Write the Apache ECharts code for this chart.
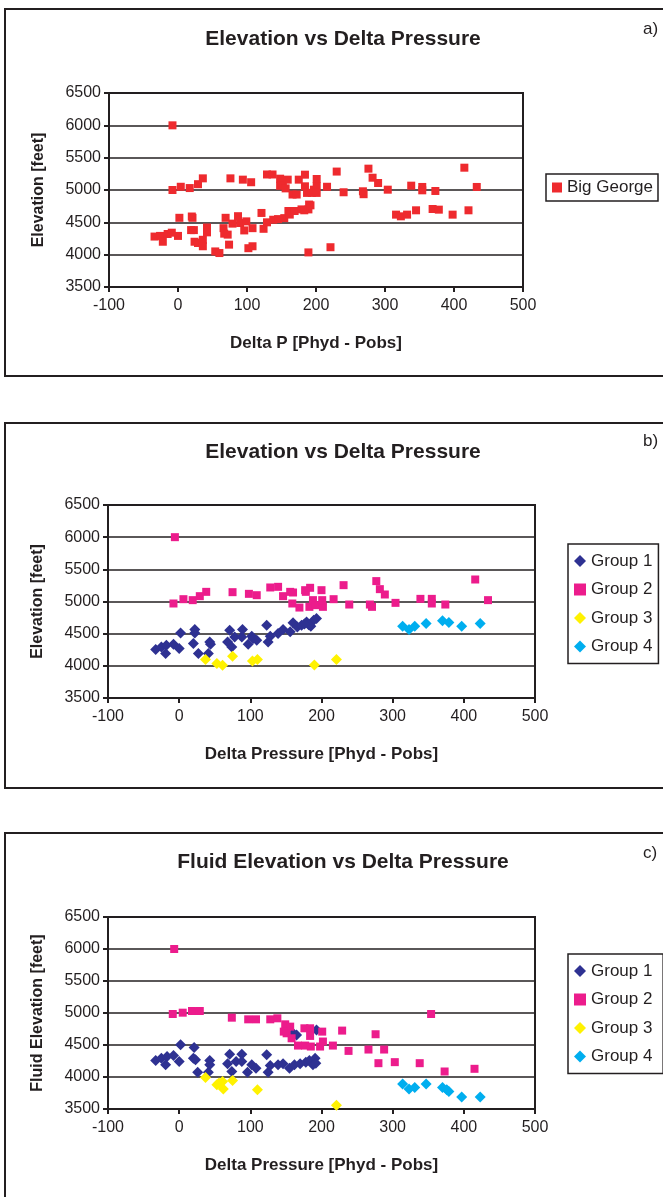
<!DOCTYPE html>
<html><head><meta charset="utf-8">
<script src="https://cdn.jsdelivr.net/npm/echarts@6/dist/echarts.min.js"></script>
<style>html,body{margin:0;padding:0;background:#fff}#c{width:663px;height:1197px}</style>
</head><body><div id="c"></div>
<script>
// ---- data ----
var xTicks = [-100, 0, 100, 200, 300, 400, 500];
var yTicks = [3500, 4000, 4500, 5000, 5500, 6000, 6500];

// a) Big George: [deltaP, elevation]
var bigGeorge = [[-8,6000],[-34,4280],[-26,4290],[-22,4200],[-15,4320],[-9,4340],[0,4290],[-8,5000],[4,5050],[2,4570],[17,5030],[29,5090],[36,5180],[21,4570],[20,4590],[19,4380],[23,4380],[24,4200],[29,4180],[36,4230],[36,4130],[42,4420],[42,4345],[54,4050],[60,4025],[66,4410],[67,4325],[69,4570],[72,4310],[74,4155],[76,5180],[79,4480],[87,4595],[90,4490],[94,5160],[96,4375],[99,4515],[102,4100],[106,5120],[108,4410],[108,4130],[121,4645],[124,4400],[129,4500],[129,5240],[137,5240],[138,4540],[145,4550],[148,5175],[152,5130],[148,5065],[154,4565],[159,5160],[156,5025],[160,4675],[162,4620],[166,4930],[169,4675],[172,4930],[175,5160],[179,4700],[184,5237],[184,5057],[187,4955],[189,4700],[190,4775],[189,4035],[194,4955],[197,5005],[201,5170],[201,5057],[201,4955],[216,5050],[221,4115],[230,5285],[240,4965],[268,4980],[269,4935],[276,5330],[282,5190],[290,5108],[304,5005],[316,4619],[323,4593],[332,4619],[338,5067],[345,4686],[354,5047],[354,4995],[369,4706],[373,4985],[378,4696],[398,4619],[415,5345],[421,4686],[433,5047],[183,4686],[192,4763]];

// b) Elevation by group
var bGroup1 = [[-33,4253],[-25,4294],[-19,4190],[-18,4320],[-8,4336],[0,4268],[2,4512],[20,4346],[22,4512],[22,4564],[27,4190],[41,4190],[43,4372],[44,4336],[68,4372],[71,4554],[74,4294],[78,4450],[88,4450],[89,4564],[97,4336],[102,4460],[104,4424],[109,4398],[123,4631],[125,4372],[128,4460],[139,4502],[146,4564],[156,4528],[160,4668],[166,4605],[172,4631],[179,4683],[185,4616],[189,4709],[193,4735],[182,4640],[176,4650]];
var bGroup2 = [[-6,6000],[-8,4969],[6,5036],[19,5021],[29,5083],[38,5150],[75,5145],[98,5119],[109,5098],[128,5218],[139,5228],[146,5083],[156,5150],[160,5140],[159,4969],[169,4906],[177,5176],[184,5213],[183,4917],[188,5021],[191,4943],[200,5176],[202,4917],[217,5036],[231,5254],[239,4953],[268,4953],[271,4917],[277,5317],[282,5192],[289,5109],[304,4979],[339,5041],[355,5041],[355,4969],[374,4953],[416,5342],[434,5021],[178,5150],[201,5021]];
var bGroup3 = [[37,4097],[53,4035],[61,4009],[75,4149],[103,4076],[110,4097],[190,4012],[221,4097]];
var bGroup4 = [[314,4616],[323,4564],[331,4616],[347,4657],[370,4699],[379,4673],[397,4616],[423,4657]];

// c) Fluid elevation by group
var cGroup1 = [[-33,4258],[-25,4294],[-19,4190],[-17,4320],[-8,4336],[0,4242],[2,4502],[20,4294],[21,4460],[23,4268],[26,4076],[41,4076],[43,4258],[43,4190],[71,4356],[68,4206],[74,4086],[80,4242],[88,4356],[88,4242],[96,4076],[102,4190],[108,4138],[123,4346],[125,4076],[128,4180],[139,4190],[146,4206],[155,4138],[160,4683],[165,4657],[162,4190],[170,4206],[178,4232],[183,4258],[188,4190],[191,4294],[193,4735],[192,4216]];
var cGroup2 = [[-7,6000],[-9,4984],[5,5005],[18,5031],[29,5031],[74,4927],[97,4901],[108,4901],[128,4901],[138,4917],[149,4823],[156,4787],[147,4709],[151,4683],[158,4605],[167,4491],[176,4761],[184,4761],[184,4642],[177,4491],[185,4476],[201,4709],[198,4476],[202,4554],[216,4491],[229,4725],[238,4408],[266,4429],[276,4668],[280,4216],[288,4429],[303,4232],[338,4216],[354,4984],[373,4086],[415,4128]];
var cGroup3 = [[37,3993],[53,3879],[56,3905],[61,3931],[62,3811],[75,3946],[110,3801],[221,3557]];
var cGroup4 = [[314,3889],[323,3811],[331,3837],[347,3889],[370,3837],[376,3801],[379,3775],[397,3687],[423,3687]];

var groupNames = ['Group 1', 'Group 2', 'Group 3', 'Group 4'];
var titles = ['Elevation vs Delta Pressure', 'Elevation vs Delta Pressure', 'Fluid Elevation vs Delta Pressure'];
var xNames = ['Delta P [Phyd - Pobs]', 'Delta Pressure [Phyd - Pobs]', 'Delta Pressure [Phyd - Pobs]'];
var yNames = ['Elevation [feet]', 'Elevation [feet]', 'Fluid Elevation [feet]'];
var panelTags = ['a)', 'b)', 'c)'];

// ---- layout / style ----
var FONT = "'Liberation Sans', Arial, sans-serif";
var INK = '#231f20';
var grids = [
  {left: 109, top: 93, width: 414, height: 194},
  {left: 108, top: 505, width: 427, height: 193},
  {left: 108, top: 917, width: 427, height: 192}
];
var panels = [[5, 9, 367], [5, 423, 365], [5, 833, 400]];
var titleTops = [24, 437, 847];
var tagTops = [16, 428, 840];
var colors = {red: '#ee2a2e', blue: '#2e3192', pink: '#ec1c8c', yellow: '#fff200', cyan: '#00aeef'};

function xAxis(i) {
  return {
    type: 'value', gridIndex: i, min: xTicks[0], max: xTicks[xTicks.length - 1], interval: 100,
    name: xNames[i], nameLocation: 'middle', nameGap: 48,
    nameTextStyle: {fontFamily: FONT, fontSize: 17, fontWeight: 'bold', color: INK},
    axisLine: {show: true, onZero: false, lineStyle: {color: INK, width: 2}},
    axisTick: {show: true, length: 5, lineStyle: {color: INK, width: 2}},
    axisLabel: {fontFamily: FONT, fontSize: 16, color: INK, margin: 11, formatter: function (v) { return String(v); }},
    splitLine: {show: false}
  };
}
function yAxis(i) {
  return {
    type: 'value', gridIndex: i, min: yTicks[0], max: yTicks[yTicks.length - 1], interval: 500,
    name: yNames[i], nameLocation: 'middle', nameGap: 62, nameRotate: 90,
    nameTextStyle: {fontFamily: FONT, fontSize: 16, fontWeight: 'bold', color: INK},
    axisLine: {show: true, onZero: false, lineStyle: {color: INK, width: 2}},
    axisTick: {show: true, length: 5, lineStyle: {color: INK, width: 2}},
    axisLabel: {fontFamily: FONT, fontSize: 16, color: INK, margin: 8, formatter: function (v) { return String(v); }},
    splitLine: {show: true, lineStyle: {color: INK, width: 1.6}}
  };
}
function sc(name, data, i, symbol, size, color) {
  return {
    type: 'scatter', name: name, data: data, xAxisIndex: i, yAxisIndex: i,
    symbol: symbol, symbolSize: size, itemStyle: {color: color, opacity: 1},
    emphasis: {disabled: true}, animation: false
  };
}

var graphics = panels.map(function (p) {
  return {type: 'rect', shape: {x: p[0], y: p[1], width: 720, height: p[2]}, style: {fill: 'none', stroke: INK, lineWidth: 2}, silent: true, z: -1};
});

var titleComps = [];
for (var i = 0; i < 3; i++) {
  titleComps.push({text: titles[i], left: 338, top: titleTops[i], textAlign: 'center',
    textStyle: {fontFamily: FONT, fontSize: 21, fontWeight: 'bold', color: INK}});
  titleComps.push({text: panelTags[i], left: 638, top: tagTops[i],
    textStyle: {fontFamily: FONT, fontSize: 17, fontWeight: 'normal', color: INK}});
}

var legendText = {fontFamily: FONT, fontSize: 17, color: INK};
var option = {
  backgroundColor: '#fff',
  animation: false,
  title: titleComps,
  grid: grids.map(function (g) { return Object.assign({show: true, borderColor: INK, borderWidth: 2, backgroundColor: 'transparent'}, g); }),
  xAxis: [xAxis(0), xAxis(1), xAxis(2)],
  yAxis: [yAxis(0), yAxis(1), yAxis(2)],
  legend: [
    {data: ['Big George'], orient: 'vertical', left: 546, top: 174, padding: [5, 5, 5, 6],
     borderColor: INK, borderWidth: 1.5, itemWidth: 10, itemHeight: 10, itemGap: 8, textStyle: legendText, selectedMode: false},
    {data: groupNames, orient: 'vertical', left: 568, top: 544, padding: [7, 6, 7, 6],
     borderColor: INK, borderWidth: 1.5, itemWidth: 12, itemHeight: 12, itemGap: 8.5, textStyle: Object.assign({lineHeight: 20}, legendText), selectedMode: false},
    {data: ['Group 1 ', 'Group 2 ', 'Group 3 ', 'Group 4 '], orient: 'vertical', left: 568, top: 954, padding: [7, 6, 7, 6],
     borderColor: INK, borderWidth: 1.5, itemWidth: 12, itemHeight: 12, itemGap: 8.5, textStyle: Object.assign({lineHeight: 20}, legendText), selectedMode: false}
  ],
  graphic: graphics,
  series: [
    sc('Big George', bigGeorge, 0, 'rect', 8, colors.red),
    sc('Group 1', bGroup1, 1, 'diamond', 11, colors.blue),
    sc('Group 2', bGroup2, 1, 'rect', 8, colors.pink),
    sc('Group 3', bGroup3, 1, 'diamond', 11, colors.yellow),
    sc('Group 4', bGroup4, 1, 'diamond', 11, colors.cyan),
    sc('Group 1 ', cGroup1, 2, 'diamond', 11, colors.blue),
    sc('Group 2 ', cGroup2, 2, 'rect', 8, colors.pink),
    sc('Group 3 ', cGroup3, 2, 'diamond', 11, colors.yellow),
    sc('Group 4 ', cGroup4, 2, 'diamond', 11, colors.cyan)
  ]
};
var chart = echarts.init(document.getElementById('c'), null, {renderer: 'canvas'});
chart.setOption(option);
</script></body></html>
